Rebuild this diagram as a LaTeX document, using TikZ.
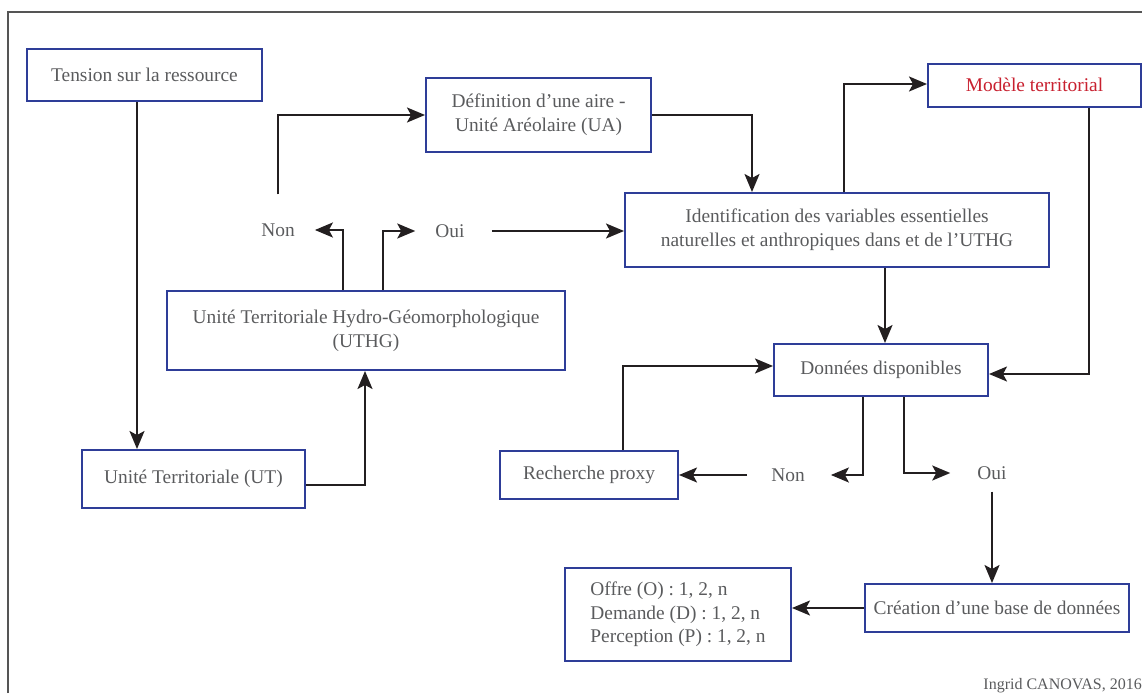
\documentclass[tikz,border=0pt]{standalone}
\usepackage{fontspec}
\setmainfont{Liberation Serif}
\usetikzlibrary{arrows.meta}
\definecolor{boxblue}{HTML}{2E3D98}
\definecolor{txtgray}{HTML}{5A5B5D}
\definecolor{linek}{HTML}{231F20}
\definecolor{redt}{HTML}{C8202F}
\definecolor{framegray}{HTML}{555555}
\begin{document}
\begin{tikzpicture}[x=1pt,y=-1pt,
  box/.style={draw=boxblue,line width=2pt,text=txtgray,align=center,inner sep=0pt,font=\fontsize{19.4}{24}\selectfont},
  lbl/.style={text=txtgray,inner sep=0pt,font=\fontsize{19.4}{24}\selectfont},
  conn/.style={draw=linek,line width=2pt,-{Stealth[length=18pt,width=15pt,inset=4pt]}},
  credit/.style={text=txtgray,inner sep=0pt,font=\fontsize{16}{18}\selectfont}]
\useasboundingbox (0,0) rectangle (1142,693);
% outer frame (cut off at right and bottom)
\draw[framegray,line width=1.2pt] (8,693) -- (8,12) -- (1142,12);

% boxes
\node[box,minimum width=235pt,minimum height=52pt] (tension) at (144.5,75) {Tension sur la ressource};
\node[box,minimum width=225pt,minimum height=74pt] (def) at (538.5,115) {Définition d’une aire -\\Unité Aréolaire (UA)};
\node[box,minimum width=213pt,minimum height=43pt,text=redt] (modele) at (1034.5,85) {Modèle territorial};
\node[box,minimum width=424pt,minimum height=74pt] (ident) at (837,230) {Identification des variables essentielles\\naturelles et anthropiques dans et de l’UTHG};
\node[box,minimum width=398pt,minimum height=79pt] (uthg) at (366,330.5) {Unité Territoriale Hydro-Géomorphologique\\(UTHG)};
\node[box,minimum width=223pt,minimum height=58pt] (ut) at (193.5,479) {Unité Territoriale (UT)};
\node[box,minimum width=214pt,minimum height=52pt] (donnees) at (881,370) {Données disponibles};
\node[box,minimum width=178pt,minimum height=48pt] (recherche) at (589,475) {Recherche proxy};
\node[box,minimum width=264pt,minimum height=48pt] (creation) at (997,608) {Création d’une base de données};
\node[box,minimum width=226pt,minimum height=93pt,align=left,font=\fontsize{19.4}{23.3}\selectfont] (offre) at (678,614.5) {Offre (O) : 1, 2, n\\Demande (D) : 1, 2, n\\Perception (P) : 1, 2, n};

% labels
\node[lbl] (non1) at (278,230) {Non};
\node[lbl] (oui1) at (450,231) {Oui};
\node[lbl] (non2) at (788,475) {Non};
\node[lbl] (oui2) at (992,473) {Oui};

\node[credit,anchor=base east] (credit) at (1142,689) {Ingrid CANOVAS, 2016};

% connectors
\draw[conn] ([xshift=-7.5pt]tension.south) -- ([xshift=-7.5pt]tension.south |- ut.north);
\draw[conn] ([yshift=-6pt]ut.east) -| ([xshift=-1pt]uthg.south);
\draw[conn] ([xshift=-23pt]uthg.north) |- ([xshift=20pt]non1.east);
\draw[conn] ([xshift=17pt]uthg.north) |- ([xshift=-20pt]oui1.west);
\draw[conn] ([xshift=27pt]oui1.east) -- (oui1.east -| ident.west);
\draw[conn] ([yshift=29pt]non1.north) |- (def.west);
\draw[conn] (def.east) -| ([xshift=-85pt]ident.north);
\draw[conn] ([xshift=7pt]ident.north) |- ([yshift=1pt]modele.west);
\draw[conn] ([xshift=54.5pt]modele.south) |- ([yshift=-4pt]donnees.east);
\draw[conn] ([xshift=48pt]ident.south) -- ([xshift=48pt]ident.south |- donnees.north);
\draw[conn] ([xshift=34pt]recherche.north) |- ([yshift=4pt]donnees.west);
\draw[conn] ([xshift=-18pt]donnees.south) |- ([xshift=26pt]non2.east);
\draw[conn] ([xshift=-24pt]non2.west) -- (non2.west -| recherche.east);
\draw[conn] ([xshift=23pt]donnees.south) |- ([xshift=-27pt]oui2.west);
\draw[conn] ([yshift=-12pt]oui2.south) -- (oui2.south |- creation.north);
\draw[conn] (creation.west) -- (creation.west -| offre.east);
\end{tikzpicture}
\end{document}
